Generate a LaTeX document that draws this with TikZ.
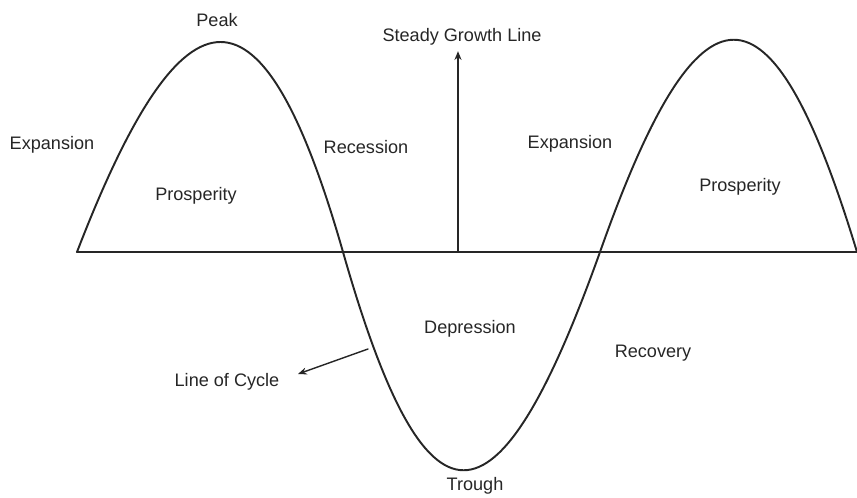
\documentclass[tikz,border=0pt]{standalone}
\usepackage{fontspec}
\setmainfont{Liberation Sans}
\usetikzlibrary{arrows.meta}
\definecolor{cycink}{HTML}{262626}

\begin{document}
\begin{tikzpicture}[
  x=0.2mm, y=-0.2mm,
  line width=1.1pt, line cap=round, line join=round,
  >={Stealth[length=5pt, width=4pt]},
  lbl/.style = {font=\fontsize{10.3}{12}\selectfont, text=cycink,
                inner sep=1pt, anchor=center},
  curve/.style = {draw=cycink, line width=1.1pt},
  axis/.style = {draw=cycink, line width=1.3pt},
  pointer/.style = {draw=cycink, line width=0.8pt, ->}
]
\useasboundingbox (0,0) rectangle (857,497);

% crossings of the cycle with the growth line
\coordinate (c0) at (77,252);
\coordinate (c1) at (343,252);
\coordinate (c2) at (600,252);
\coordinate (c3) at (857,252);
\coordinate (sg) at (458,252);

\draw[axis] (c0) -- (c3);
\draw[curve] (c0) .. controls (185,-28) and (263,-28) .. (c1)
  .. controls (426,543) and (496,543) .. (c2)
  .. controls (700,-31) and (771,-31) .. (c3);

% labels
\node[lbl] (pk) at (217,20) {Peak};
\node[lbl] (gl) at (462,37) {Steady Growth Line};
\node[lbl] (ex1) at (52,145) {Expansion};
\node[lbl] (pr1) at (196,196) {Prosperity};
\node[lbl] (rc) at (366,147) {Recession};
\node[lbl] (ex2) at (570,144) {Expansion};
\node[lbl] (pr2) at (740,187) {Prosperity};
\node[lbl] (dp) at (470,329) {Depression};
\node[lbl] (rv) at (653,353) {Recovery};
\node[lbl] (cyc) at (227,382) {Line of Cycle};
\node[lbl, anchor=south] (tr) at (475,497) {Trough};

% steady growth line
\draw[pointer, line width=1.1pt] (sg) -- ([yshift=-0.6mm]gl.south -| sg);

% pointer to the cycle
\coordinate (lc) at (368,349);
\coordinate (lct) at (298,374);
\draw[pointer] (lc) -- (lct);

\end{tikzpicture}
\end{document}
